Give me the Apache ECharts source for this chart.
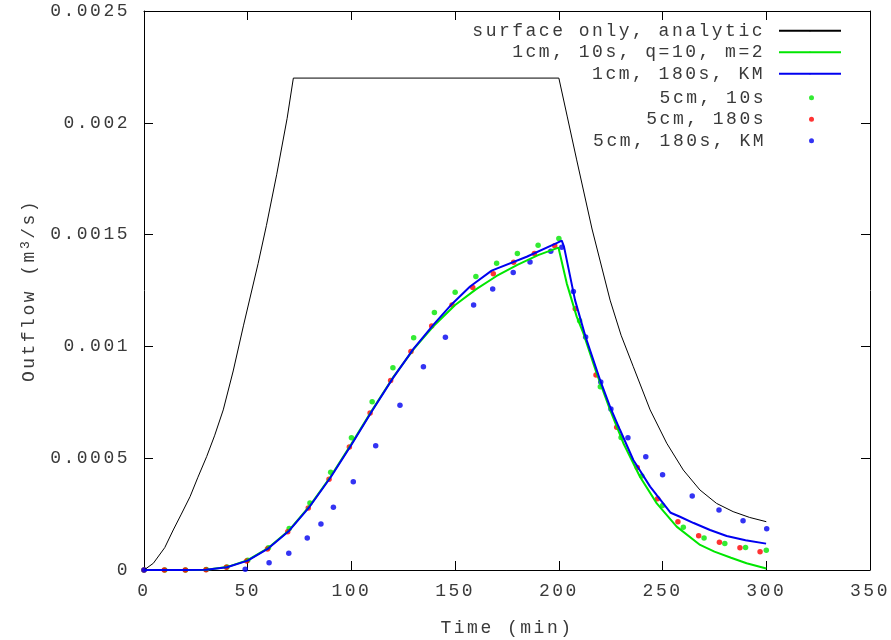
<!DOCTYPE html>
<html>
<head>
<meta charset="utf-8">
<script src="https://cdn.jsdelivr.net/npm/echarts@6/dist/echarts.min.js"></script>
<style>html,body{margin:0;padding:0;background:#fff}#c{width:891px;height:640px}</style>
</head>
<body>
<div id="c"></div>
<script>
// ---------- data ----------
const xTickLabels = ['0', '50', '100', '150', '200', '250', '300', '350'];
const yTickLabels = ['0', '0.0005', '0.001', '0.0015', '0.002', '0.0025'];

const seriesNames = ['surface only, analytic', '1cm, 10s, q=10, m=2', '1cm, 180s, KM', '5cm, 10s', '5cm, 180s', '5cm, 180s, KM'];

const analyticT = [0, 4.5, 10, 14.1, 18, 22.2, 26, 30.2, 34, 38.2, 43, 48, 55, 59, 64, 69, 72, 200, 204, 208.6, 216, 224.7, 230, 235.9, 244, 252, 260, 268, 276, 284, 292, 300];
const analyticQ = [0, 0.00003, 0.0001, 0.000179, 0.00025, 0.000328, 0.000415, 0.000507, 0.0006, 0.000716, 0.00089, 0.001095, 0.00137, 0.00154, 0.00177, 0.00202, 0.0022, 0.0022, 0.00203, 0.001834, 0.001525, 0.001207, 0.00105, 0.000909, 0.000716, 0.000567, 0.000447, 0.000358, 0.000298, 0.000261, 0.000235, 0.000216];

const line10sT = [0, 10, 20, 30, 40, 50, 60, 70, 80, 90, 100, 110, 120, 130, 140, 150, 160, 170, 180, 190, 199.8, 203.8, 208.6, 211.8, 218.2, 224.7, 231.1, 239.1, 247.2, 256.8, 268.1, 275, 283, 290.5, 300];
const line10sQ = [0, 0, 0, 0.000001, 0.000013, 0.000044, 0.000099, 0.000178, 0.000288, 0.000418, 0.000564, 0.000715, 0.00086, 0.000988, 0.001095, 0.001185, 0.001255, 0.001315, 0.001365, 0.001408, 0.001442, 0.001282, 0.001133, 0.001059, 0.00088, 0.000716, 0.000567, 0.000417, 0.000298, 0.000194, 0.000112, 0.000082, 0.000055, 0.00003, 0.000007];

const lineKMT = [0, 10, 20, 30, 40, 50, 60, 70, 80, 90, 100, 110, 120, 130, 140, 148.5, 157.2, 167.6, 184.5, 198.9, 201.4, 202.5, 207.8, 212.9, 220.2, 225.1, 229.5, 235.9, 244, 247.2, 253.9, 258.4, 265, 272.9, 280.9, 290, 299.9];
const lineKMQ = [0, 0, 0, 0.000001, 0.000012, 0.000042, 0.000097, 0.000176, 0.000285, 0.000415, 0.00056, 0.000712, 0.000858, 0.00099, 0.001102, 0.00119, 0.001268, 0.001339, 0.001401, 0.001462, 0.001473, 0.001445, 0.001207, 0.001042, 0.000841, 0.00072, 0.000626, 0.000492, 0.000373, 0.000335, 0.000256, 0.000238, 0.00021, 0.000179, 0.000152, 0.000133, 0.000118];

const dots10sT = [0, 10, 20, 30, 40, 50, 60, 70, 80, 90, 100, 110, 120, 130, 140, 150, 160, 170, 180, 190, 200, 210, 220, 230, 240, 250, 260, 270, 280, 290, 300];
const dots10sQ = [0, 0, 0, 0.000002, 0.000013, 0.000044, 0.0001, 0.000186, 0.0003, 0.000437, 0.000592, 0.000753, 0.000905, 0.001039, 0.001152, 0.001242, 0.001313, 0.001372, 0.001416, 0.001452, 0.001483, 0.001115, 0.00082, 0.000593, 0.00042, 0.000288, 0.000191, 0.000143, 0.000118, 0.000101, 0.000088];

const dots180sT = [0, 9.8, 19.9, 29.9, 39.7, 49.5, 59.5, 69.3, 79.2, 89.2, 99, 109, 118.9, 128.7, 138.7, 148.5, 158.5, 168.4, 178.2, 188.2, 198, 207.9, 217.9, 227.9, 237.8, 247.6, 257.4, 267.4, 277.4, 287.3, 297];
const dots180sQ = [0, 0, 0, 0.000001, 0.000012, 0.00004, 0.000094, 0.000171, 0.000277, 0.000406, 0.00055, 0.000702, 0.000847, 0.000977, 0.001091, 0.001185, 0.001263, 0.001325, 0.001376, 0.001416, 0.00145, 0.001168, 0.000872, 0.000638, 0.000458, 0.000319, 0.000216, 0.000153, 0.000124, 0.0001, 0.000082];

const dotsKMT = [0, 48.8, 60.3, 69.8, 78.7, 85.3, 91.3, 100.9, 111.7, 123.4, 134.7, 145.3, 158.9, 168.1, 178, 186.1, 196.1, 201.4, 207, 212.9, 220.2, 225.1, 233.3, 241.9, 250, 264.3, 277.2, 288.8, 300.2];
const dotsKMQ = [0, 0.000003, 0.000032, 0.000075, 0.000143, 0.000206, 0.000281, 0.000395, 0.000556, 0.000737, 0.000909, 0.001041, 0.001185, 0.001257, 0.00133, 0.001377, 0.001425, 0.001443, 0.001246, 0.001042, 0.000841, 0.00072, 0.000592, 0.000507, 0.000426, 0.000331, 0.000268, 0.00022, 0.000185];

// ---------- styling ----------
const FONT = 'Liberation Mono';
const FS = 18;
const LS = 2.5; // extra letter spacing, like the gnuplot fixed-cell text
const TXT = '#3a3a3a';

// wide letter spacing (measure + draw)
(function () {
  const mctx = document.createElement('canvas').getContext('2d');
  try {
    echarts.setPlatformAPI({
      measureText: function (text, font) {
        mctx.font = font || '12px sans-serif';
        mctx.letterSpacing = LS + 'px';
        return mctx.measureText(text);
      }
    });
  } catch (e) {}
  const proto = CanvasRenderingContext2D.prototype;
  const orig = proto.fillText;
  proto.fillText = function (t, x, y, m) {
    this.letterSpacing = LS + 'px';
    return m === undefined ? orig.call(this, t, x, y) : orig.call(this, t, x, y, m);
  };
})();

function zip(t, q) { return t.map((v, i) => [v, q[i]]); }

const chart = echarts.init(document.getElementById('c'), null, { renderer: 'canvas' });

const axisCommon = {
  type: 'value',
  axisLine: { show: true, onZero: false, lineStyle: { color: '#000', width: 1 } },
  axisTick: { show: true, inside: true, length: 9, lineStyle: { color: '#000', width: 1 } },
  splitLine: { show: false }
};
const textBase = { fontFamily: FONT, fontSize: FS, color: TXT };

const option = {
  animation: false,
  backgroundColor: '#fff',
  grid: { left: 144, right: 21, top: 11, bottom: 70, containLabel: false, outerBoundsMode: 'none' },
  xAxis: [
    Object.assign({}, axisCommon, {
      min: 0, max: 350, interval: 50, position: 'bottom',
      axisLabel: Object.assign({ margin: 11, formatter: (v, i) => xTickLabels[i] !== undefined ? xTickLabels[i] : String(v) }, textBase),
      name: 'Time (min)', nameLocation: 'middle', nameGap: 48,
      nameTextStyle: textBase
    }),
    Object.assign({}, axisCommon, {
      min: 0, max: 350, interval: 50, position: 'top',
      axisLabel: { show: false }
    })
  ],
  yAxis: [
    Object.assign({}, axisCommon, {
      min: 0, max: 0.0025, interval: 0.0005, position: 'left',
      axisLabel: Object.assign({ margin: 14, formatter: (v, i) => yTickLabels[i] !== undefined ? yTickLabels[i] : String(v) }, textBase),
      name: '{a|Outflow (m}{b|3}{a|/s)}', nameLocation: 'middle', nameGap: 104, nameRotate: 90,
      nameTextStyle: {
        rich: {
          a: { fontFamily: FONT, fontSize: FS, color: TXT, lineHeight: 22 },
          b: { fontFamily: FONT, fontSize: 13, color: TXT, lineHeight: 12, verticalAlign: 'top' }
        }
      }
    }),
    Object.assign({}, axisCommon, {
      min: 0, max: 0.0025, interval: 0.0005, position: 'right',
      axisLabel: { show: false }
    })
  ],
  legend: [
    {
      data: seriesNames.slice(0, 3), orient: 'vertical', align: 'right',
      right: 49, top: 20.5, padding: 0, itemGap: 1, itemWidth: 62, itemHeight: 2,
      selectedMode: false,
      formatter: n => '{a|' + n + '}',
      textStyle: { rich: { a: { fontFamily: FONT, fontSize: FS, color: TXT, lineHeight: 21.5, width: 340, align: 'right', padding: [0, 9, 0, 0] } } }
    },
    {
      data: seriesNames.slice(3).map(n => ({ name: n, icon: 'circle' })), orient: 'vertical', align: 'right',
      right: 77, top: 87.5, padding: 0, itemGap: 1, itemWidth: 5, itemHeight: 5,
      selectedMode: false,
      formatter: n => '{a|' + n + '}',
      textStyle: { rich: { a: { fontFamily: FONT, fontSize: FS, color: TXT, lineHeight: 21.5, width: 340, align: 'right', padding: [0, 38, 0, 0] } } }
    }
  ],
  series: [
    { name: seriesNames[0], type: 'line', data: zip(analyticT, analyticQ), symbol: 'none', smooth: false,
      lineStyle: { color: '#000', width: 1 }, itemStyle: { color: '#000' } },
    { name: seriesNames[1], type: 'line', data: zip(line10sT, line10sQ), symbol: 'none',
      lineStyle: { color: '#00e600', width: 2 }, itemStyle: { color: '#00e600' } },
    { name: seriesNames[2], type: 'line', data: zip(lineKMT, lineKMQ), symbol: 'none',
      lineStyle: { color: '#0000f0', width: 2 }, itemStyle: { color: '#0000f0' } },
    { name: seriesNames[3], type: 'scatter', data: zip(dots10sT, dots10sQ), symbol: 'circle', symbolSize: 5.5,
      itemStyle: { color: '#00e600' } },
    { name: seriesNames[4], type: 'scatter', data: zip(dots180sT, dots180sQ), symbol: 'circle', symbolSize: 5.5,
      itemStyle: { color: '#ff0000' } },
    { name: seriesNames[5], type: 'scatter', data: zip(dotsKMT, dotsKMQ), symbol: 'circle', symbolSize: 5.5,
      itemStyle: { color: '#0000f0' } }
  ]
};
chart.setOption(option);
</script>
</body>
</html>
